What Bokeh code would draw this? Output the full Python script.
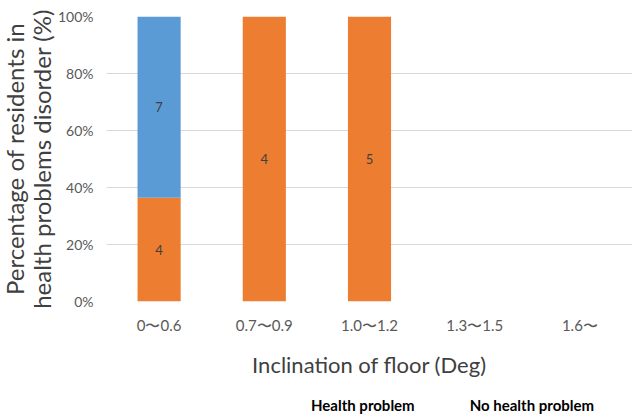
import numpy as np
from bokeh.plotting import figure
from bokeh.layouts import column
from bokeh.models import (ColumnDataSource, Range1d, FixedTicker, NumeralTickFormatter,
                          Legend, LegendItem, Title)
from bokeh.core.properties import value
from bokeh.embed import file_html
from bokeh.resources import INLINE

categories = ["0〜0.6", "0.7〜0.9", "1.0〜1.2", "1.3〜1.5", "1.6〜"]
health = [4, 4, 5, 0, 0]
no_health = [7, 0, 0, 0, 0]
y_ticks = [0, 0.2, 0.4, 0.6, 0.8, 1.0]
y_title = ["health problems disorder (%)", "Percentage of residents in"]
series_names = ["Health problem", "No health problem"]

FONT = "Lato"
ORANGE = "#ED7D31"
BLUE = "#5B9BD5"

tot = [h + n for h, n in zip(health, no_health)]
h_frac = [h / t if t else 0 for h, t in zip(health, tot)]
n_frac = [n / t if t else 0 for n, t in zip(no_health, tot)]

src = ColumnDataSource(dict(cat=categories, h=h_frac, n=n_frac))

p = figure(x_range=categories, y_range=Range1d(0, 1),
           width=633, height=385,
           min_border_left=106, min_border_right=1, min_border_top=16, min_border_bottom=84,
           output_backend="svg", toolbar_location=None)
p.outline_line_color = None

r = p.vbar_stack(["h", "n"], x="cat", width=0.41, color=[ORANGE, BLUE], source=src,
                 line_color=None)

# value labels
lx, ly, lt = [], [], []
for c, h, n, hf, nf in zip(categories, health, no_health, h_frac, n_frac):
    if h:
        lx.append(c); ly.append(hf / 2); lt.append(str(h))
    if n:
        lx.append(c); ly.append(hf + nf / 2); lt.append(str(n))
p.text(x=lx, y=ly, text=lt, text_align="center", text_baseline="middle",
       text_font=value(FONT), text_font_size="13px", text_color="#404040")

# axes
p.yaxis.ticker = FixedTicker(ticks=y_ticks)
p.yaxis.formatter = NumeralTickFormatter(format="0%")
for ax in (p.xaxis[0], p.yaxis[0]):
    ax.axis_line_color = None
    ax.major_tick_line_color = None
    ax.minor_tick_line_color = None
    ax.major_tick_out = 0
    ax.major_tick_in = 0
    ax.major_label_text_font = FONT
    ax.major_label_text_color = "#595959"
    ax.axis_label_text_font = FONT
    ax.axis_label_text_font_style = "normal"
    ax.axis_label_text_color = "#404040"
p.yaxis.major_label_text_font_size = "14px"
p.yaxis.major_label_standoff = 13
p.xaxis.major_label_text_font_size = "15px"
p.xaxis.major_label_standoff = 14
p.xaxis.axis_label = "Inclination of floor (Deg)"
p.xaxis.axis_label_text_font_size = "22px"
p.xaxis.axis_label_standoff = 14

# two-line y-axis title
for txt, so in zip(y_title, (-3, -5)):
    p.add_layout(Title(text=txt, align="center", standoff=so, text_font=FONT,
                       text_font_size="24px", text_font_style="normal",
                       text_color="#404040"), "left")

p.xgrid.grid_line_color = None
p.ygrid.grid_line_color = "#D9D9D9"
p.ygrid.grid_line_width = 1

# legend strip below the chart
leg = figure(width=633, height=33, x_axis_location=None, y_axis_location=None,
             min_border=0, output_backend="svg", toolbar_location=None)
leg.outline_line_color = None
leg.grid.visible = False
empty = ColumnDataSource(dict(x=[], top=[]))
lr = [leg.vbar(x="x", top="top", width=0.5, source=empty, fill_color=c, line_color=None)
      for c in (ORANGE, BLUE)]

legend = Legend(items=[LegendItem(label=nm, renderers=[rr]) for nm, rr in zip(series_names, lr)],
                orientation="horizontal", location=(190, 4),
                glyph_width=9, glyph_height=9, label_standoff=6, spacing=40,
                padding=0, margin=0, border_line_color=None, background_fill_alpha=0,
                label_text_font=FONT, label_text_font_size="15px",
                label_text_font_style="bold", label_text_color="#000000")
leg.add_layout(legend, "center")

layout = column(p, leg, spacing=0)
open("out.html", "w").write(file_html(layout, INLINE))
